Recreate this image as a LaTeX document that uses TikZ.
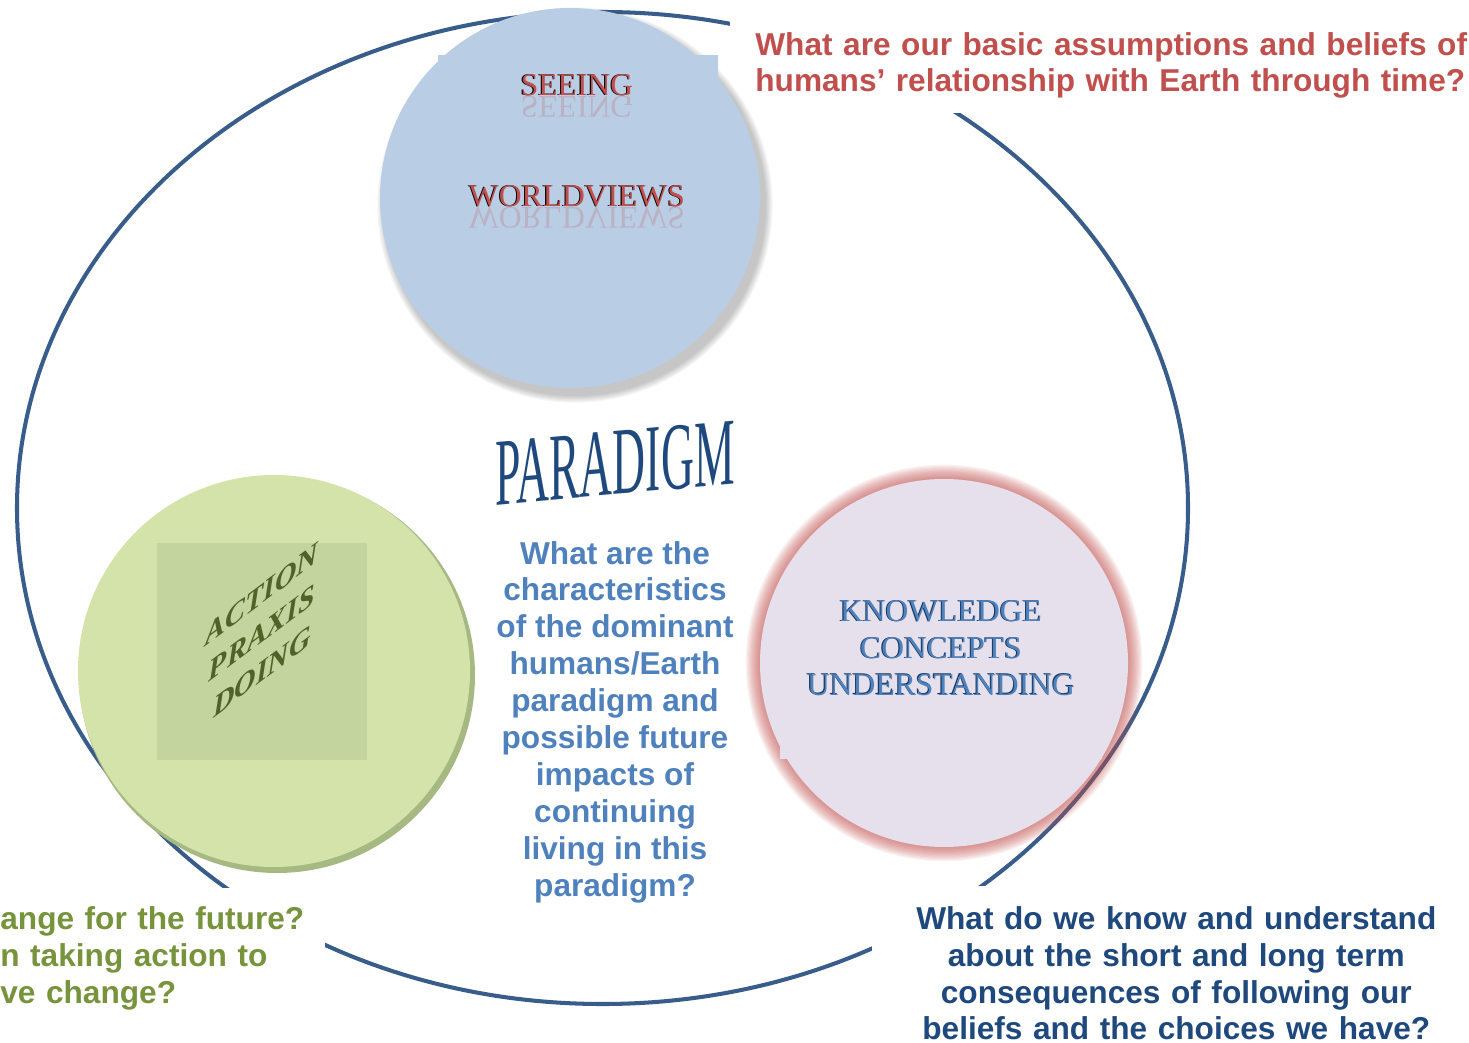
\documentclass[tikz,border=0pt]{standalone}
\usepackage{fontspec}
\setmainfont{Liberation Serif}
\newfontfamily\arialfont{Liberation Sans}
\usetikzlibrary{calc}
\definecolor{ringblue}{HTML}{385D8A}
\definecolor{seefill}{HTML}{B9CDE5}
\definecolor{knowfill}{HTML}{E5E0EC}
\definecolor{glowred}{HTML}{C0504D}
\definecolor{actfill}{HTML}{D3E3AA}
\definecolor{actdark}{HTML}{A7B982}
\definecolor{actsquare}{HTML}{C4D49E}
\definecolor{askred}{HTML}{C0504D}
\definecolor{askgreen}{HTML}{77933C}
\definecolor{asknavy}{HTML}{1F497D}
\definecolor{parablue}{HTML}{4F81BD}
\definecolor{olivetext}{HTML}{4F6228}
\definecolor{edgenavy}{HTML}{17375E}
\newcommand{\edged}[2]{\rlap{\hspace{-0.6pt}\raisebox{0.2pt}{\textcolor{#1}{#2}}}#2}
\tikzset{
  question/.style = {
    font=\arialfont\bfseries\fontsize{18}{21}\selectfont,
    fill=white, inner xsep=0pt
  },
  caps/.style = {font=\fontsize{18}{20.9}\selectfont, align=center},
  mirror/.style = {caps, yscale=-1, opacity=0.22}
}

\begin{document}
\begin{tikzpicture}[x=0.02cm,y=-0.02cm]
  \useasboundingbox (0,0) rectangle (1469,1043);
  % paradigm ring
  \draw[ringblue,line width=2.3pt] (602.5,508) ellipse (585.5 and 496);
  % questions
  \node[question, text=askred, anchor=south west, inner xsep=0.5cm, inner ysep=0.28cm,
        text width=14.4cm, align=left] (askseeing) at (730,113)
        {What are our basic assumptions and beliefs of\\humans’ relationship with Earth through time?};
  \node[question, text=askgreen, anchor=north west, inner ysep=0.36cm,
        text width=6.5cm, align=left] (askaction) at (0,888)
        {ange for the future?\\n taking action to\\ve change?};
  \node[question, text=asknavy, anchor=north west, inner ysep=0.40cm,
        text width=12.16cm, align=center] (askknow) at (872,886)
        {What do we know and understand\\about the short and long term\\consequences of following our\\beliefs and the choices we have?};
  % seeing circle
  \pgfmathsetmacro{\seerad}{190}
  \coordinate (seec) at (570,198);
  \foreach \i in {1,...,7} {
    \fill[black,opacity=0.035] ($(seec)+(5,7)$) circle ({\seerad+\i*1.1});
  }
  \fill[seefill] (seec) circle (\seerad);
  \fill[seefill] (438,55) rectangle (718,240);
  \node[caps, text=glowred] (seeing) at (577,85) {\edged{black}{SEEING}};
  \node[mirror, text=glowred] (seeingmirror) at (577,107) {SEEING};
  \node[caps, text=glowred] (worldviews) at (577,196) {\edged{black}{WORLDVIEWS}};
  \node[mirror, text=glowred] (worldviewsmirror) at (577,218) {WORLDVIEWS};
  % action circle
  \pgfmathsetmacro{\actrad}{198}
  \coordinate (actc) at (275,672);
  \fill[actdark] ($(actc)+(2,3)$) circle (\actrad);
  \fill[actfill] ($(actc)+(-1,-1)$) circle ({\actrad-2});
  \fill[actsquare] (157,543) rectangle (367,760);
  \node[font=\bfseries\itshape\fontsize{17}{22}\selectfont, text=olivetext, align=center,
        yslant=0.75] (action) at (262,633) {ACTION\\PRAXIS\\DOING};
  % knowledge circle
  \pgfmathsetmacro{\knowrad}{184}
  \coordinate (knowc) at (944,663);
  \foreach \i in {1,...,12} {
    \fill[glowred,opacity=0.075] (knowc) circle ({\knowrad+\i*1.2});
  }
  \fill[knowfill] (knowc) circle (\knowrad);
  \fill[knowfill] (780,580) rectangle (1102,759);
  \node[caps, text=parablue] (knowledge) at (941,648)
        {\edged{edgenavy}{KNOWLEDGE}\\\edged{edgenavy}{CONCEPTS}\\\edged{edgenavy}{UNDERSTANDING}};
  % paradigm
  \node[font=\fontsize{26}{26}\selectfont, text=asknavy, yslant=0.09, yscale=2.1]
        (paradigm) at (615,463) {PARADIGM};
  \node[question, fill=none, text=parablue, align=center] (paraask) at (615,722)
        {What are the\\characteristics\\of the dominant\\humans/Earth\\paradigm and\\possible future\\impacts of\\continuing\\living in this\\paradigm?};
\end{tikzpicture}
\end{document}
